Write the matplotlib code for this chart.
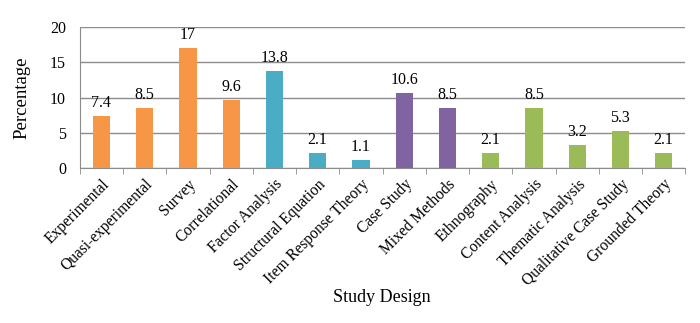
import matplotlib.pyplot as plt
import numpy as np

# study designs and share of articles (%)
designs = ['Experimental', 'Quasi-experimental', 'Survey', 'Correlational',
           'Factor Analysis', 'Structural Equation', 'Item Response Theory',
           'Case Study', 'Mixed Methods', 'Ethnography', 'Content Analysis',
           'Thematic Analysis', 'Qualitative Case Study', 'Grounded Theory']
percent = [7.4, 8.5, 17, 9.6, 13.8, 2.1, 1.1, 10.6, 8.5, 2.1, 8.5, 3.2, 5.3, 2.1]
groups = ['quant', 'quant', 'quant', 'quant', 'psych', 'psych', 'psych',
          'mixed', 'mixed', 'qual', 'qual', 'qual', 'qual', 'qual']

group_colors = {'quant': '#F79646', 'psych': '#4BACC6',
                'mixed': '#8064A2', 'qual': '#9BBB59'}

plt.rcParams['font.family'] = ['Liberation Serif', 'DejaVu Serif']

fig = plt.figure(figsize=(7, 3.23), dpi=100)
ax = fig.add_axes([0.114, 0.48, 0.865, 0.436])

x = np.arange(len(designs))
colors = [group_colors[g] for g in groups]
bars = ax.bar(x, percent, width=0.4, color=colors, zorder=3)

for xi, v in zip(x, percent):
    ax.text(xi, v + 0.7, f'{v:g}', ha='center', va='bottom', fontsize=11.5)

ax.set_xlim(-0.5, len(designs) - 0.5)
ax.set_ylim(0, 20)
ax.set_yticks([0, 5, 10, 15, 20])
ax.yaxis.grid(True, color='#8c8c8c', linewidth=1, zorder=0)
ax.tick_params(axis='y', length=0, labelsize=11.5, pad=10)

# category labels sit under the bars, ticks mark the boundaries
ax.set_xticks(x)
ax.set_xticklabels(designs, rotation=45, ha='right', rotation_mode='anchor',
                   fontsize=11.2)
ax.tick_params(axis='x', length=0, pad=6)
ax.set_xticks(np.arange(len(designs) + 1) - 0.5, minor=True)
ax.tick_params(axis='x', which='minor', length=4, color='#8c8c8c', direction='out')

for side in ['top', 'right']:
    ax.spines[side].set_visible(False)
ax.spines['left'].set_color('#8c8c8c')
ax.spines['bottom'].set_color('#8c8c8c')

ax.set_ylabel('Percentage', fontsize=13.5, labelpad=14)
fig.text(0.546, 0.08, 'Study Design', ha='center', va='center', fontsize=13)

fig.savefig('out.png', dpi=100)
